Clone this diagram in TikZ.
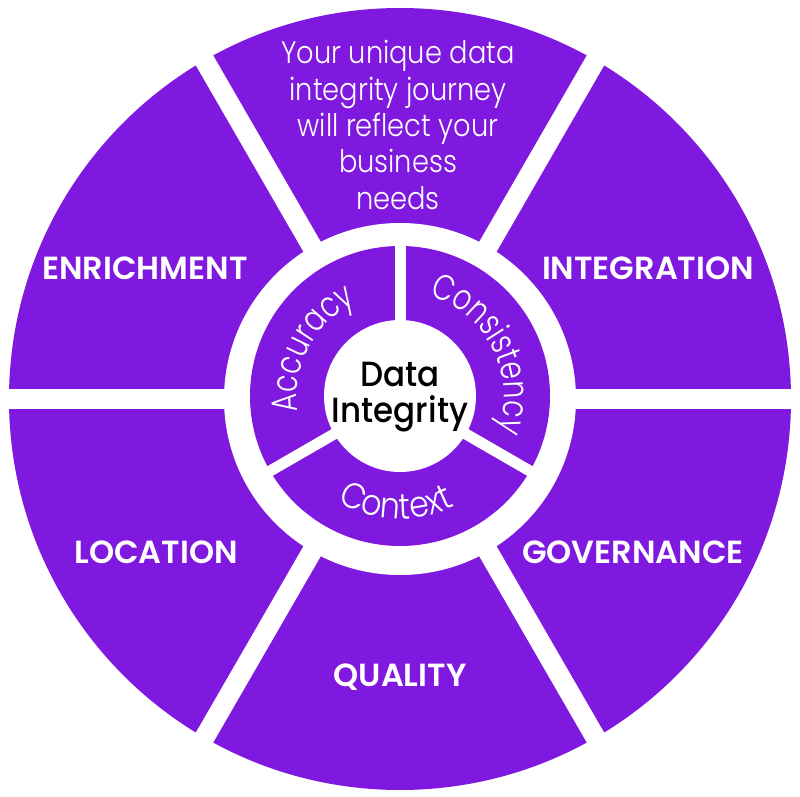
\documentclass[tikz,border=0pt]{standalone}
\usepackage{fontspec}
\usetikzlibrary{decorations.text}
\definecolor{ringpurple}{RGB}{127,25,223}
\IfFontExistsTF{Poppins Light}{%
    \newfontfamily\thinfont{Poppins Light}[FakeStretch=0.88]%
    \newfontfamily\arcfont{Poppins Light}[FakeStretch=0.78]}{%
    \newfontfamily\thinfont{Poppins}[FakeStretch=0.88]%
    \newfontfamily\arcfont{Poppins}[FakeStretch=0.78]}
\IfFontExistsTF{Poppins SemiBold}{\newfontfamily\capsfont{Poppins SemiBold}}{\newfontfamily\capsfont{Poppins}[UprightFont=*Bold]}
\IfFontExistsTF{Poppins Medium}{\newfontfamily\hubfont{Poppins Medium}[FakeStretch=0.93]}{\newfontfamily\hubfont{Poppins}[FakeStretch=0.93]}

\begin{document}
\begin{tikzpicture}[
    x=1pt, y=1pt,
    seglabel/.style={anchor=base, inner sep=0pt, text=white, font=\capsfont\fontsize{32}{32}\selectfont},
    journey/.style={inner sep=0pt, text=white, align=center, font=\thinfont\fontsize{31}{36.4}\selectfont},
    hublabel/.style={inner sep=0pt, text=black, align=center, font=\hubfont\fontsize{35}{36}\selectfont},
    band/.style={white, line width=20pt},
    divider/.style={white, line width=11pt},
    arctext/.style={decorate, decoration={text along path, text align=center, text color=white}}
]

% Frame
\useasboundingbox[fill=white] (-400,-398) rectangle (400,399);
\coordinate (mid) at (0,0);
\coordinate (hub) at (0,3);

% Outer ring
\fill[ringpurple] (mid) circle[radius=391pt];
\foreach \ang in {0,60,120}
    \draw[band] (\ang:420pt) -- (\ang+180:420pt);
\fill[white] (mid) circle[radius=176pt];

% Inner ring
\fill[ringpurple] (hub) circle[radius=150pt];
\foreach \ang in {90,210,330}
    \draw[divider] (hub) -- ++(\ang:160pt);
\fill[white] (hub) circle[radius=76pt];

% Outer labels
\node[journey] (journey) at (-2,274) {Your unique data\\integrity journey\\will reflect your\\business\\needs};
\node[seglabel] (enrich) at (-255,119) {ENRICHMENT};
\node[seglabel] (integ) at (248,119) {INTEGRATION};
\node[seglabel] (locat) at (-244,-164) {LOCATION};
\node[seglabel] (govern) at (233,-164) {GOVERNANCE};
\node[seglabel] (quality) at (0,-287) {QUALITY};

% Inner labels
\path[arctext, decoration={text={|\arcfont\fontsize{36}{36}\selectfont|Accuracy}}]
    ([shift={(hub)}]242:103pt) arc[start angle=242, end angle=62, radius=103pt];
\path[arctext, decoration={text={|\arcfont\fontsize{36}{36}\selectfont|Consistency}}]
    ([shift={(hub)}]117:104pt) arc[start angle=117, end angle=-63, radius=104pt];
\path[arctext, decoration={text={|\thinfont\fontsize{36}{36}\selectfont|Context}}]
    ([shift={(hub)}]178:123pt) arc[start angle=178, end angle=358, radius=123pt];

% Centre
\node[hublabel] (centre) at (0,2) {Data\\Integrity};

\end{tikzpicture}
\end{document}
